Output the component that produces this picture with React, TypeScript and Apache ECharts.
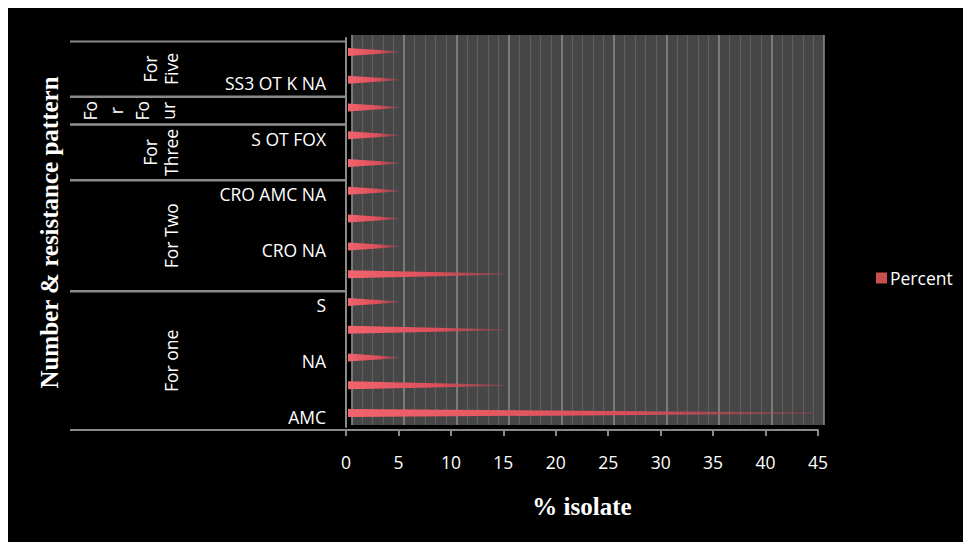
import React, { useEffect, useRef } from "react";
import * as echarts from "echarts";

// Categories from bottom (index 0) to top (index 13)
const categories = ["AMC", "", "NA", "", "S", "", "CRO NA", "", "CRO AMC NA", "", "S OT FOX", "", "SS3 OT K NA", ""];
const percent = [44.4, 15, 5, 15, 5, 15, 5, 5, 5, 5, 5, 5, 5, 5];

const groupNames = ["For one", "For Two", "For\nThree", "Fo\nr\nFo\nur", "For\nFive"];
const groupStart = [0, 5, 9, 11, 12];
const groupEnd = [4, 8, 10, 11, 13];

const xTicks = { min: 0, max: 45, interval: 5 };

const FONT = "'Open Sans', 'Noto Sans', sans-serif";
const SERIF = "'Liberation Serif', 'DejaVu Serif', serif";

export default function App() {
  const ref = useRef<HTMLDivElement>(null);

  useEffect(() => {
    if (!ref.current) return;
    const chart = echarts.init(ref.current, undefined, { renderer: "svg" });

    const coneFill = new echarts.graphic.LinearGradient(0, 0, 1, 0, [
      { offset: 0, color: "#f2646c" },
      { offset: 0.6, color: "#d94e5a" },
      { offset: 1, color: "rgba(200,70,85,0.35)" },
    ]);

    const option: any = {
      animation: false,
      backgroundColor: "#000",
      grid: [
        { left: 343.5, top: 27, width: 472.5, height: 390, show: true, backgroundColor: "#464646", borderWidth: 0 },
        { left: 338, top: 30, width: 472, height: 389, show: false },
      ],
      xAxis: [
        {
          gridIndex: 0,
          type: "value",
          min: xTicks.min,
          max: xTicks.max,
          interval: xTicks.interval,
          axisLine: { show: false },
          axisTick: { show: false },
          axisLabel: { show: false },
          splitLine: { show: true, lineStyle: { color: "#8e8e8e", width: 1.5 } },
          minorTick: { show: false, splitNumber: 5 },
          minorSplitLine: { show: true, lineStyle: { color: "#5f5f5f", width: 1.2 } },
        },
        {
          gridIndex: 1,
          type: "value",
          min: xTicks.min,
          max: xTicks.max,
          interval: xTicks.interval,
          offset: 3,
          axisLine: { show: true, lineStyle: { color: "#8a8a8a", width: 2 } },
          axisTick: { show: true, length: 6, lineStyle: { color: "#8a8a8a", width: 2 } },
          axisLabel: { color: "#fff", fontSize: 17.5, fontFamily: FONT, margin: 23 },
          splitLine: { show: false },
          name: "% isolate",
          nameLocation: "middle",
          nameGap: 64,
          nameTextStyle: { color: "#fff", fontSize: 25, fontWeight: "bold", fontFamily: SERIF },
        },
      ],
      yAxis: [
        { gridIndex: 0, type: "value", min: 0, max: 1, show: false },
        {
          gridIndex: 1,
          type: "category",
          data: categories,
          axisLine: { show: true, lineStyle: { color: "#8a8a8a", width: 2 } },
          axisTick: { show: false },
          axisLabel: {
            color: "#fff",
            fontSize: 17.5,
            fontFamily: FONT,
            margin: 20,
            interval: 0,
            verticalAlign: "top",
            lineHeight: 7,
          },
          name: "Number & resistance pattern",
          nameLocation: "middle",
          nameGap: 284,
          nameRotate: 90,
          nameTextStyle: { color: "#fff", fontSize: 25, fontWeight: "bold", fontFamily: SERIF },
        },
      ],
      legend: {
        data: ["Percent"],
        left: 863,
        top: 256,
        icon: "rect",
        itemWidth: 11,
        itemHeight: 11,
        itemGap: 4,
        textStyle: { color: "#fff", fontSize: 17.5, fontFamily: FONT, padding: [0, 0, 0, -2] },
      },
      series: [
        {
          name: "Groups",
          type: "custom",
          xAxisIndex: 1,
          yAxisIndex: 1,
          clip: false,
          silent: true,
          encode: { x: 0, y: 1 },
          data: groupStart.map((s, i) => [0, s, groupEnd[i]]),
          renderItem: (params: any, api: any) => {
            const s = api.value(1);
            const e = api.value(2);
            const band = api.size([0, 1])[1];
            const pS = api.coord([0, s]);
            const pE = api.coord([0, e]);
            const x0 = pS[0];
            const yBot = pS[1] + band / 2 + 3;
            const yTop = pE[1] - band / 2 + 3.5;
            const name = groupNames[params.dataIndex];
            const lines = name.split("\n").length;
            const lh = lines > 2 ? 26 : 21;
            const lineStyle = { stroke: "#8a8a8a", lineWidth: 2 };
            return {
              type: "group",
              children: [
                { type: "line", shape: { x1: x0 - 276, y1: yTop, x2: x0, y2: yTop }, style: lineStyle },
                { type: "line", shape: { x1: x0 - 276, y1: yBot, x2: x0, y2: yBot }, style: lineStyle },
                {
                  type: "text",
                  x: x0 - 165,
                  y: (yTop + yBot) / 2,
                  rotation: Math.PI / 2,
                  style: {
                    text: name,
                    fill: "#fff",
                    fontSize: 17.5,
                    fontFamily: FONT,
                    lineHeight: lh,
                    align: "center",
                    verticalAlign: "bottom",
                  },
                },
              ],
            };
          },
        },
        {
          name: "Percent",
          type: "custom",
          xAxisIndex: 1,
          yAxisIndex: 1,
          clip: false,
          itemStyle: { color: "#c8504e" },
          encode: { x: 0, y: 1 },
          data: percent.map((v, i) => [v, i]),
          renderItem: (params: any, api: any) => {
            const v = api.value(0);
            const i = api.value(1);
            const p0 = api.coord([0, i]);
            const p1 = api.coord([v, i]);
            const h = 4;
            const xs = p0[0] + 2;
            return {
              type: "polygon",
              shape: {
                points: [
                  [xs, p0[1] - h],
                  [p1[0], p0[1] - 0.6],
                  [p1[0], p0[1] + 0.6],
                  [xs, p0[1] + h],
                ],
              },
              style: { fill: coneFill },
            };
          },
        },
      ],
    };

    chart.setOption(option);
    return () => chart.dispose();
  }, []);

  return (
    <div
      ref={ref}
      style={{ position: "fixed", left: 8, top: 8, width: 955, height: 534, background: "#000" }}
    />
  );
}
